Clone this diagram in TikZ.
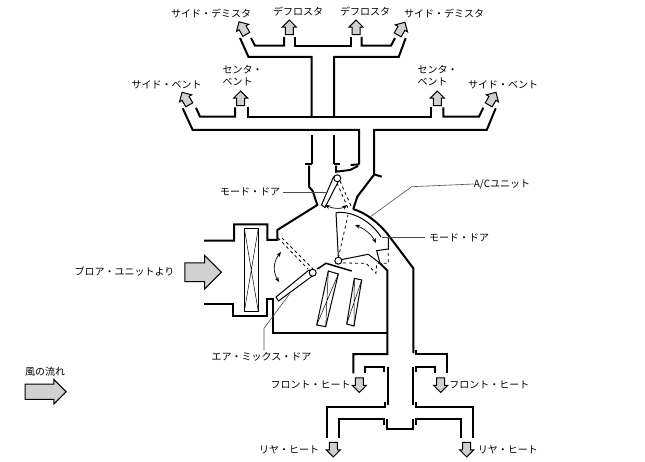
\documentclass[tikz,border=0pt]{standalone}
\usepackage{fontspec}
\newfontfamily\jpfont{Noto Sans CJK JP}
\usetikzlibrary{shapes.arrows, arrows.meta, positioning}

\begin{document}
\begin{tikzpicture}[
    x=1pt, y=-1pt,
    node distance = 2pt,
    duct/.style   = {line width=2pt, line join=miter},
    door/.style   = {line width=1pt, fill=white},
    swing/.style  = {line width=0.8pt, dashed},
    core/.style   = {line width=1pt},
    leader/.style = {line width=0.6pt, black!70},
    pivot/.style  = {circle, draw, line width=1pt, fill=white,
                     inner sep=0pt, minimum size=7pt},
    motion/.style = {line width=0.7pt, {Stealth[length=5pt,width=4pt]}-{Stealth[length=5pt,width=4pt]}},
    label/.style  = {font=\jpfont\fontsize{10}{12}\selectfont,
                     inner sep=0pt, align=left},
    flow/.style   = {single arrow, draw, line width=1pt, fill=black!18,
                     inner xsep=0pt, inner ysep=3.5pt,
                     single arrow head extend=3pt,
                     minimum height=14.5pt}
]
\useasboundingbox (0,0) rectangle (645,462);

%% Outlets at the top
\node[flow, rotate=120] (demistL) at (243.7,29.8) {};
\node[flow, rotate=90]  (frostL)  at (289.3,29.3) {};
\node[flow, rotate=90]  (frostR)  at (356,29.3) {};
\node[flow, rotate=60]  (demistR) at (400.3,30.3) {};
\node[flow, rotate=120] (ventL)   at (186.7,100.3) {};
\node[flow, rotate=90]  (centerL) at (240.7,100.3) {};
\node[flow, rotate=90]  (centerR) at (437.3,100.3) {};
\node[flow, rotate=60]  (ventR)   at (491.3,100.3) {};

%% Outlets at the bottom
\node[flow, rotate=-90] (frontL) at (359.3,383.2) {};
\node[flow, rotate=-90] (frontR) at (440.7,383.2) {};
\node[flow, rotate=-90] (rearL)  at (333.3,447.7) {};
\node[flow, rotate=-90] (rearR)  at (466.7,447.7) {};

%% Incoming air and legend
\node[flow, inner ysep=8.85pt, minimum height=36.4pt,
      single arrow head extend=7.5pt] (blower) at (198.5,272.3) {};
\node[flow, inner ysep=7.2pt, minimum height=41pt,
      single arrow head extend=4.5pt] (legend) at (41.8,391.7) {};

%% Labels
\node[label] (lDemistL) at (211,14)   {サイド・デミスタ};
\node[label] (lFrostL)  at (298,12)   {デフロスタ};
\node[label] (lFrostR)  at (365,12)   {デフロスタ};
\node[label] (lDemistR) at (444,14)   {サイド・デミスタ};
\node[label] (lVentL)   at (166.7,84.5) {サイド・ベント};
\node[label, anchor=west] (lCenterL) at (222.5,76) {センタ・\\ベント};
\node[label, anchor=west] (lCenterR) at (417.5,76) {センタ・\\ベント};
\node[label] (lVentR)   at (503,84.5) {サイド・ベント};
\node[label] (lModeA)   at (250,192)  {モード・ドア};
\node[label] (lUnit)    at (502,184)  {A/Cユニット};
\node[label] (lModeB)   at (459,238)  {モード・ドア};
\node[label] (lBlower)  at (124.5,272) {ブロア・ユニットより};
\node[label] (lMix)     at (261.5,357) {エア・ミックス・ドア};
\node[label] (lLegend)  at (45,372)   {風の流れ};
\node[label, left=of frontL.center, xshift=-6.5pt, yshift=-1.8pt] (lFrontL) {フロント・ヒート};
\node[label, right=of frontR.center, xshift=6.5pt, yshift=-1.8pt] (lFrontR) {フロント・ヒート};
\node[label, left=of rearL.center, xshift=-12pt, yshift=-2.3pt] (lRearL)  {リヤ・ヒート};
\node[label, right=of rearR.center, xshift=9pt, yshift=-2.3pt]  (lRearR)  {リヤ・ヒート};

%% Upper ducts
\draw[duct] (240,38) -- (248.5,57) -- (311.7,57) -- (311.7,117);
\draw[duct] (334,117) -- (334,57) -- (398.7,57) -- (405.7,38);
\draw[duct] (251,38) -- (255,45.7) -- (284,45.7) -- (284,37);
\draw[duct] (295,37) -- (295,45.7) -- (350.7,45.7) -- (350.7,37);
\draw[duct] (361.7,37) -- (361.7,45.7) -- (391,45.7) -- (395,38);
\draw[duct] (196,107.7) -- (200,116.7) -- (235,116.7) -- (235,107.3);
\draw[duct] (247.7,107.3) -- (247.7,116.7) -- (430.7,116.7) -- (430.7,107.3);
\draw[duct] (443.3,107.3) -- (443.3,116.7) -- (479,116.7) -- (483.3,107.7);
\draw[duct] (182.7,108.3) -- (192.7,130) -- (359,130) -- (359,164.3);
\draw[duct] (374,175) -- (374,130) -- (486.7,130) -- (495.7,108.3);

%% Casing
\draw[duct] (311.7,135) -- (311.7,164);
\draw[duct] (334.3,135) -- (334.3,164);
\draw[duct] (305,164.3) -- (312.3,164.3);
\draw[duct] (309,165.7) -- (309,186.7) -- (312.7,191) -- (317.3,205)
    -- (277.3,230) -- (277.3,240) -- (267.3,240) -- (267.3,224.5)
    -- (234,224.5) -- (234,240.7) -- (204,240.7);
\draw[duct] (204,304) -- (233.3,304) -- (233.3,316) -- (267.3,316)
    -- (267.3,299.3) -- (272.7,299.3) -- (272.7,332.7) -- (387.3,332.7);
\draw[duct] (334,164.3) -- (340,164.3);
\draw[duct] (336,165.7) -- (336,171.7) -- (350,170) -- (358,166);
\draw[duct] (350.7,165) -- (359.3,164.3);
\draw[duct] (374,175) -- (371.7,177.7) -- (357.3,196.7) -- (353.3,209);
\draw[duct] (374,174.3) -- (381.7,176.7);
\draw[duct] (353,209) .. controls (366,213) and (378,222) .. (388.3,235)
    -- (413.3,268.3) -- (413.3,353.3);

%% Lower ducts
\draw[duct] (380,263.3) -- (387.3,270.5) -- (387.3,354) -- (353.3,354) -- (353.3,373.3);
\draw[duct] (365,373) -- (365,367.3) -- (384,367.3) -- (384,372);
\draw[duct] (387.7,367) -- (387.7,405);
\draw[duct] (385,402) -- (385,406.7) -- (326.7,406.7) -- (326.7,438.3);
\draw[duct] (339,438.3) -- (339,419.3) -- (384,419.3) -- (384,425);
\draw[duct] (386.7,419.3) -- (386.7,429.3) -- (412.7,429.3) -- (412.7,419.3);
\draw[duct] (416,350) -- (416,354) -- (446.7,354) -- (446.7,373.3);
\draw[duct] (435,373.3) -- (435,367.3) -- (416,367.3) -- (416,372);
\draw[duct] (412.7,367.3) -- (412.7,405);
\draw[duct] (416,402) -- (416,406.7) -- (472.7,406.7) -- (472.7,438.3);
\draw[duct] (460.7,438.3) -- (460.7,419.3) -- (416,419.3) -- (416,425);

%% Filter and heater cores
\draw[core] (244.3,228.3) rectangle (258.3,311.7);
\draw[line width=0.5pt] (244.3,228.3) -- (258.3,311.7) (258.3,228.3) -- (244.3,311.7);
\draw[core] (328.3,271) -- (338.3,274) -- (325.7,326.7) -- (316.7,325) -- cycle;
\draw[line width=0.5pt] (328.3,271) -- (325.7,326.7) (338.3,274) -- (316.7,325);
\draw[core] (354.3,278.3) -- (361.7,280) -- (354,326) -- (346.7,324) -- cycle;
\draw[line width=0.5pt] (354.3,278.3) -- (354,326) (361.7,280) -- (346.7,324);

%% Air mix door
\draw[swing] (278,238) -- (308,269) (282,238) -- (313,269);
\draw[door] (309,270) -- (276,297) -- (278.5,301) -- (315,274) -- cycle;
\draw[line width=1.5pt] (317.3,269) -- (326,263.3) -- (351.7,271);
\node[pivot] (pivotMix) at (312.7,272.7) {};
\draw[motion] (281,252) .. controls (273,262) and (273,272) .. (279,282);

%% Upper mode door
\draw[swing] (340,181) -- (352,208) (337,183) -- (348,208);
\draw[door] (333.5,177) -- (321.5,205) -- (325,207.5) -- (339,180) -- cycle;
\node[pivot] (pivotUp) at (337.3,178.3) {};
\draw[motion] (325,205) .. controls (333,209) and (342,209) .. (347,205);

%% Lower mode door
\draw[swing] (338.3,258) -- (348,215);
\draw[swing] (343,263) -- (366,263.3) -- (376,273.3) -- (376.7,263.3) -- (388.3,263.3) -- (388.3,249);
\draw[line width=1pt] (336,212.7) -- (338.3,257) (342,259.5) -- (368.3,254.3) -- (380,263.3) -- (376.7,250.7) -- (388.3,249)
    -- (388.3,236);
\draw[line width=1pt] (336,212.7) .. controls (352,210.5) and (371,221) .. (381,237);
\node[pivot] (pivotLow) at (338.3,260.7) {};
\draw[motion] (355,225) .. controls (365,229) and (372,235) .. (376,243);

%% Leaders
\coordinate (leadUnit) at (411.7,186.7);
\coordinate (leadUnitEnd) at (370,217);
\coordinate (leadModeA) at (283,192.7);
\coordinate (leadModeAEnd) at (326.7,192.7);
\coordinate (leadModeB) at (425,237.7);
\coordinate (leadModeBEnd) at (381.7,237.7);
\coordinate (leadMix) at (264,350);
\coordinate (leadMixBend) at (264,328.3);
\coordinate (leadMixEnd) at (290,293.3);
\draw[leader] (lUnit.west) -- (leadUnit) -- (leadUnitEnd);
\draw[leader] (leadModeA) -- (leadModeAEnd);
\draw[leader] (leadModeB) -- (leadModeBEnd);
\draw[leader] (leadMix) -- (leadMixBend) -- (leadMixEnd);
\end{tikzpicture}
\end{document}
